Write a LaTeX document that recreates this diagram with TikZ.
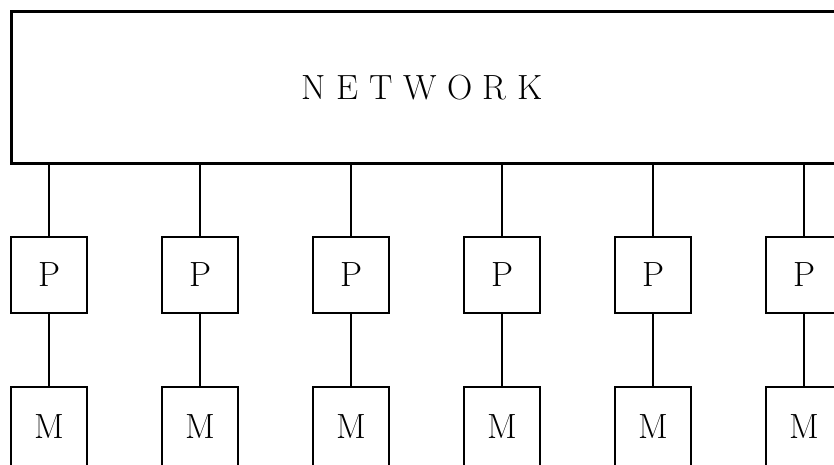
\documentclass[tikz,border=0pt]{standalone}
\begin{document}
\begin{tikzpicture}[x=1pt,y=-1pt,
  netbox/.style={draw,line width=2.6pt,rectangle,minimum width=836pt,minimum height=152pt,anchor=north west,inner sep=0pt},
  unit/.style={draw,line width=2.6pt,rectangle,minimum width=76pt,minimum height=76pt,inner sep=0pt,font=\fontsize{35}{40}\selectfont},
  mem/.style={unit,minimum height=80pt},
  link/.style={line width=2.6pt}]
\useasboundingbox (0,0) rectangle (834,464);
\clip (0,0) rectangle (834,464);
\node[netbox] (net) at (10,10) {};
\node (lbl) at (422,88) {\fontsize{35}{40}\selectfont N E T W O R K};
\foreach \i/\x in {1/49,2/200,3/351,4/502,5/653,6/804}{
  \node[unit] (p\i) at (\x,275) {P};
  \node[mem] (m\i) at (\x,427) {M};
  \draw[link] (p\i.north) -- (p\i.north |- net.south);
  \draw[link] (m\i.north) -- (p\i.south);
}
\end{tikzpicture}
\end{document}
